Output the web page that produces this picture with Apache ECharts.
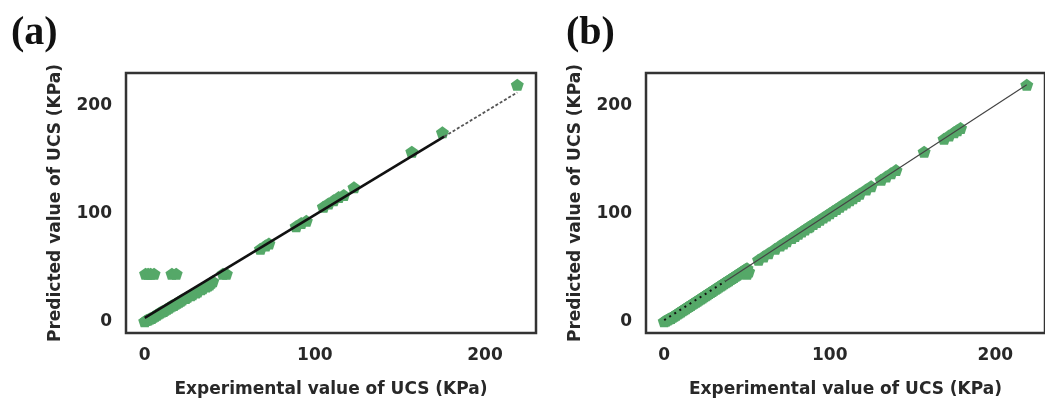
<!DOCTYPE html>
<html>
<head>
<meta charset="utf-8">
<script src="https://cdn.jsdelivr.net/npm/echarts@6/dist/echarts.min.js"></script>
<style>
  html, body { margin: 0; padding: 0; background: #fff; }
  #chart { width: 1045px; height: 403px; }
</style>
</head>
<body>
<div id="chart"></div>
<script>
// Panel (a): experimental vs predicted UCS
const aExp  = [0, 1, 2, 3, 4, 5, 6, 7, 8, 9, 10, 11, 12, 13, 14, 15, 16, 17, 18, 19, 20, 21, 22, 24, 25, 27, 28, 30, 31, 33, 34, 36, 37, 38, 39, 40,
               0.5, 2, 3.5, 5.5, 16, 18.5, 46, 48,
               68, 71, 73, 89, 92, 95, 105, 108, 111, 114, 117, 123, 157, 175, 219];
const aPred = [0, 1, 1.5, 2.5, 3, 4, 5, 6, 7, 8, 9, 9.5, 10.5, 11.5, 12.5, 13.5, 14.5, 15, 16, 17, 18, 19, 20, 21.5, 22.5, 24, 25, 26.5, 27.5, 29.5, 30.5, 32, 33, 34, 35.5, 37,
               44, 44, 44, 44, 44, 44, 44, 44,
               67, 70, 72, 88, 91, 93, 106, 109, 112, 115, 117, 124, 157, 175, 219];
// Fitted line for (a): solid part, then dashed extension
const aLineX = [0, 176, 219];
const aLineY = [3, 171, 212];

// Panel (b)
const bExp  = [0, 1, 2, 3, 4, 5, 6, 7, 8, 9, 10, 11, 12, 13, 14, 15, 16, 17, 18, 19, 20, 21, 22, 23, 24, 25, 26, 27, 28, 29, 30,
               31, 32, 33, 34, 35, 36, 37, 38, 39, 40, 41, 42, 43, 44, 45, 46, 47, 48, 49, 50,
               48, 50, 51,
               57, 60, 63, 67, 70, 72, 74, 77, 79, 81, 83, 85, 87, 88, 90, 92, 94, 96, 98, 100, 102, 104, 106, 108, 110, 112, 114, 116, 118,
               122, 125, 131, 134, 137, 140, 157, 169, 172, 175, 177, 179, 219];
const bPred = [0, 0.5, 1.5, 2.5, 3, 4, 5, 6, 7, 8, 9, 10, 11, 12, 13, 14, 15, 16, 17, 18, 19, 20, 21, 22, 23, 24, 25, 26, 27, 28, 29,
               30, 31, 32, 33, 34, 35, 36, 37, 38, 39, 40, 41, 42, 43, 44, 45, 46, 47, 48, 49,
               45, 44, 46,
               57, 60, 63, 67, 70, 72, 74, 77, 79, 81, 83, 85, 87, 88, 90, 92, 94, 96, 98, 100, 102, 104, 106, 108, 110, 112, 114, 116, 118,
               122, 125, 131, 134, 137, 140, 157, 169, 172, 175, 177, 179, 219];
// Reference line for (b): dotted start, then thin solid
const bLineX = [0, 37, 219];
const bLineY = [1, 37, 219];

const tickValues = [0, 100, 200];
const xTitle = 'Experimental value of UCS (KPa)';
const yTitle = 'Predicted value of UCS (KPa)';

const GREEN = '#55a868';
const PENTAGON = 'path://M0,-1L0.951,-0.309L0.588,0.809L-0.588,0.809L-0.951,-0.309Z';
const FONT = 'DejaVu Sans';
const TEXT = '#282828';

function pairs(xs, ys) { return xs.map((x, i) => [x, ys[i]]); }

function xAxis(gridIndex) {
  return {
    type: 'value', gridIndex, min: -11, max: 230,
    name: xTitle, nameLocation: 'middle', nameGap: 48,
    nameTextStyle: { fontFamily: FONT, fontWeight: 'bold', fontSize: 17, color: TEXT, verticalAlign: 'top' },
    axisLine: { show: false }, axisTick: { show: false }, splitLine: { show: false },
    axisLabel: { customValues: tickValues, margin: 14, fontFamily: FONT, fontWeight: 'bold', fontSize: 17, color: TEXT }
  };
}
function yAxis(gridIndex) {
  return {
    type: 'value', gridIndex, min: -11, max: 230,
    name: yTitle, nameLocation: 'middle', nameGap: 62,
    nameTextStyle: { fontFamily: FONT, fontWeight: 'bold', fontSize: 17, color: TEXT },
    axisLine: { show: false }, axisTick: { show: false }, splitLine: { show: false },
    axisLabel: { customValues: tickValues, margin: 14, fontFamily: FONT, fontWeight: 'bold', fontSize: 17, color: TEXT }
  };
}
function scatter(idx, xs, ys) {
  return {
    type: 'scatter', xAxisIndex: idx, yAxisIndex: idx, data: pairs(xs, ys),
    symbol: PENTAGON, symbolSize: [13, 12], itemStyle: { color: GREEN, opacity: 1 }, z: 2
  };
}
function segment(idx, xs, ys, from, style) {
  return {
    type: 'line', xAxisIndex: idx, yAxisIndex: idx, showSymbol: false, symbol: 'none',
    data: pairs(xs.slice(from, from + 2), ys.slice(from, from + 2)),
    lineStyle: style, z: 5, silent: true
  };
}

const chart = echarts.init(document.getElementById('chart'), null, { renderer: 'canvas' });
chart.setOption({
  animation: false,
  backgroundColor: '#fff',
  title: [
    { text: '(a)', left: 6, top: 9, textStyle: { fontFamily: 'Liberation Serif', fontWeight: 'bold', fontSize: 40, color: '#111' } },
    { text: '(b)', left: 561, top: 9, textStyle: { fontFamily: 'Liberation Serif', fontWeight: 'bold', fontSize: 40, color: '#111' } }
  ],
  grid: [
    { left: 126, top: 73, width: 410, height: 267, show: true, borderColor: '#333', borderWidth: 2.5, backgroundColor: '#fff' },
    { left: 646, top: 73, width: 409, height: 267, show: true, borderColor: '#333', borderWidth: 2.5, backgroundColor: '#fff' }
  ],
  xAxis: [xAxis(0), xAxis(1)],
  yAxis: [yAxis(0), yAxis(1)],
  series: [
    scatter(0, aExp, aPred),
    segment(0, aLineX, aLineY, 0, { color: '#111', width: 2.6, type: 'solid' }),
    segment(0, aLineX, aLineY, 1, { color: '#555', width: 1.8, type: [3, 2] }),
    scatter(1, bExp, bPred),
    segment(1, bLineX, bLineY, 0, { color: '#111', width: 2, type: [2, 4] }),
    segment(1, bLineX, bLineY, 1, { color: '#444', width: 1.2, type: 'solid' })
  ]
});
</script>
</body>
</html>
